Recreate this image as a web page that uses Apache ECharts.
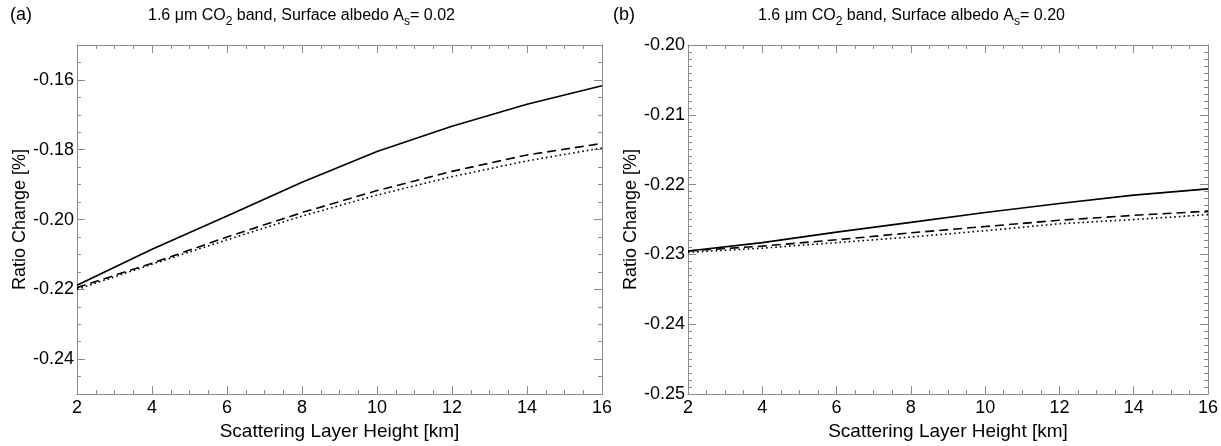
<!DOCTYPE html>
<html>
<head>
<meta charset="utf-8">
<script src="https://cdn.jsdelivr.net/npm/echarts@6/dist/echarts.min.js"></script>
<style>
  html, body { margin: 0; padding: 0; background: #fff; }
  #chart { width: 1221px; height: 446px; }
</style>
</head>
<body>
<div id="chart"></div>
<script>
// ---- data ----
const heights = [2, 4, 6, 8, 10, 12, 14, 16];
const leftSolid  = [-0.2188, -0.2085, -0.1990, -0.1893, -0.1805, -0.1733, -0.1670, -0.1617];
const leftDashed = [-0.2195, -0.2125, -0.2050, -0.1980, -0.1917, -0.1862, -0.1815, -0.1782];
const leftDotted = [-0.2200, -0.2128, -0.2058, -0.1990, -0.1930, -0.1877, -0.1832, -0.1795];
const rightSolid  = [-0.2295, -0.2283, -0.2268, -0.2254, -0.2240, -0.2227, -0.2215, -0.2206];
const rightDashed = [-0.2295, -0.2288, -0.2279, -0.2269, -0.2260, -0.2251, -0.2244, -0.2238];
const rightDotted = [-0.2297, -0.2291, -0.2283, -0.2275, -0.2266, -0.2256, -0.2250, -0.2243];
const leftYTicks  = [-0.24, -0.22, -0.20, -0.18, -0.16];
const rightYTicks = [-0.25, -0.24, -0.23, -0.22, -0.21, -0.20];
const xTicks = [2, 4, 6, 8, 10, 12, 14, 16];
const panelLabels = ['(a)', '(b)'];
const albedos = ['0.02', '0.20'];
const xName = 'Scattering Layer Height [km]';
const yName = 'Ratio Change [%]';

const FONT = 'Liberation Sans';
const FRAME = '#8a8a8a';

const grids = [
  { left: 77, top: 45, width: 525, height: 358 },
  { left: 688, top: 45, width: 524, height: 358 }
];

function pair(xs, ys) { return xs.map((x, i) => [x, ys[i]]); }

const panels = [
  { ymin: -0.25, ymax: -0.15, minorStep: 0.005, majors: leftYTicks,
    series: [leftSolid, leftDashed, leftDotted] },
  { ymin: -0.25, ymax: -0.20, minorStep: 0.001, majors: rightYTicks,
    series: [rightSolid, rightDashed, rightDotted] }
];

const xAxes = [], yAxes = [], series = [];
panels.forEach((p, g) => {
  const xBase = {
    gridIndex: g, type: 'value', min: 2, max: 16, interval: 2,
    axisLine: { show: true, onZero: false, lineStyle: { color: FRAME, width: 1 } },
    axisTick: { show: true, inside: true, length: 8, lineStyle: { color: FRAME } },
    minorTick: { show: true, splitNumber: 4, length: 4, lineStyle: { color: FRAME } },
    splitLine: { show: false }
  };
  xAxes.push(Object.assign({}, xBase, {
    position: 'bottom',
    axisLabel: { show: true, color: '#000', fontFamily: FONT, fontSize: 18, margin: 5,
                 customValues: xTicks },
    name: xName, nameLocation: 'middle', nameGap: 21,
    nameTextStyle: { color: '#000', fontFamily: FONT, fontSize: 19 }
  }));
  xAxes.push(Object.assign({}, xBase, { position: 'top', axisLabel: { show: false } }));

  const yBase = {
    gridIndex: g, type: 'value', min: p.ymin, max: p.ymax,
    splitLine: { show: false }
  };
  yAxes.push(Object.assign({}, yBase, {
    position: 'left', interval: p.minorStep,
    axisLine: { show: true, onZero: false, lineStyle: { color: FRAME } },
    axisTick: { show: true, inside: true, length: 4, lineStyle: { color: FRAME } },
    axisLabel: { show: true, color: '#000', fontFamily: FONT, fontSize: 18, margin: 3,
                 customValues: p.majors, formatter: v => v.toFixed(2) },
    name: yName, nameLocation: 'middle', nameGap: 46,
    nameTextStyle: { color: '#000', fontFamily: FONT, fontSize: 18 }
  }));
  yAxes.push(Object.assign({}, yBase, {
    position: 'left',
    axisLine: { show: false },
    axisTick: { show: true, inside: true, length: 8, customValues: p.majors, lineStyle: { color: FRAME } },
    axisLabel: { show: false }
  }));
  yAxes.push(Object.assign({}, yBase, {
    position: 'right', interval: p.minorStep,
    axisLine: { show: true, onZero: false, lineStyle: { color: FRAME } },
    axisTick: { show: true, inside: true, length: 4, lineStyle: { color: FRAME } },
    axisLabel: { show: false }
  }));
  yAxes.push(Object.assign({}, yBase, {
    position: 'right',
    axisLine: { show: false },
    axisTick: { show: true, inside: true, length: 8, customValues: p.majors, lineStyle: { color: FRAME } },
    axisLabel: { show: false }
  }));

  const styles = [
    { type: 'solid', width: 1.6 },
    { type: [9, 5], width: 1.6 },
    { type: [1.6, 3], width: 1.6 }
  ];
  p.series.forEach((vals, k) => {
    series.push({
      type: 'line', xAxisIndex: g * 2, yAxisIndex: g * 4,
      data: pair(heights, vals), symbol: 'none', silent: true, animation: false,
      lineStyle: Object.assign({ color: '#000' }, styles[k])
    });
  });
});

const titleRich = {
  a: { fontFamily: FONT, fontSize: 16, color: '#000', lineHeight: 24, verticalAlign: 'middle' },
  sub: { fontFamily: FONT, fontSize: 12, color: '#000', lineHeight: 12, verticalAlign: 'bottom' }
};
const graphics = [];
[148, 758].forEach((x, g) => {
  graphics.push({
    type: 'text', left: x, top: 8, silent: true,
    style: {
      text: '{a|1.6 \u03bcm CO}{sub|2}{a| band, Surface albedo A}{sub|s}{a|= ' + albedos[g] + '}',
      rich: titleRich
    }
  });
});
[10, 613].forEach((x, g) => {
  graphics.push({
    type: 'text', left: x, top: 6, silent: true,
    style: { text: panelLabels[g], fontFamily: FONT, fontSize: 18, fill: '#000' }
  });
});

const chart = echarts.init(document.getElementById('chart'), null, { renderer: 'canvas' });
chart.setOption({
  animation: false,
  backgroundColor: '#fff',
  grid: grids,
  xAxis: xAxes,
  yAxis: yAxes,
  series: series,
  graphic: graphics
});
</script>
</body>
</html>
